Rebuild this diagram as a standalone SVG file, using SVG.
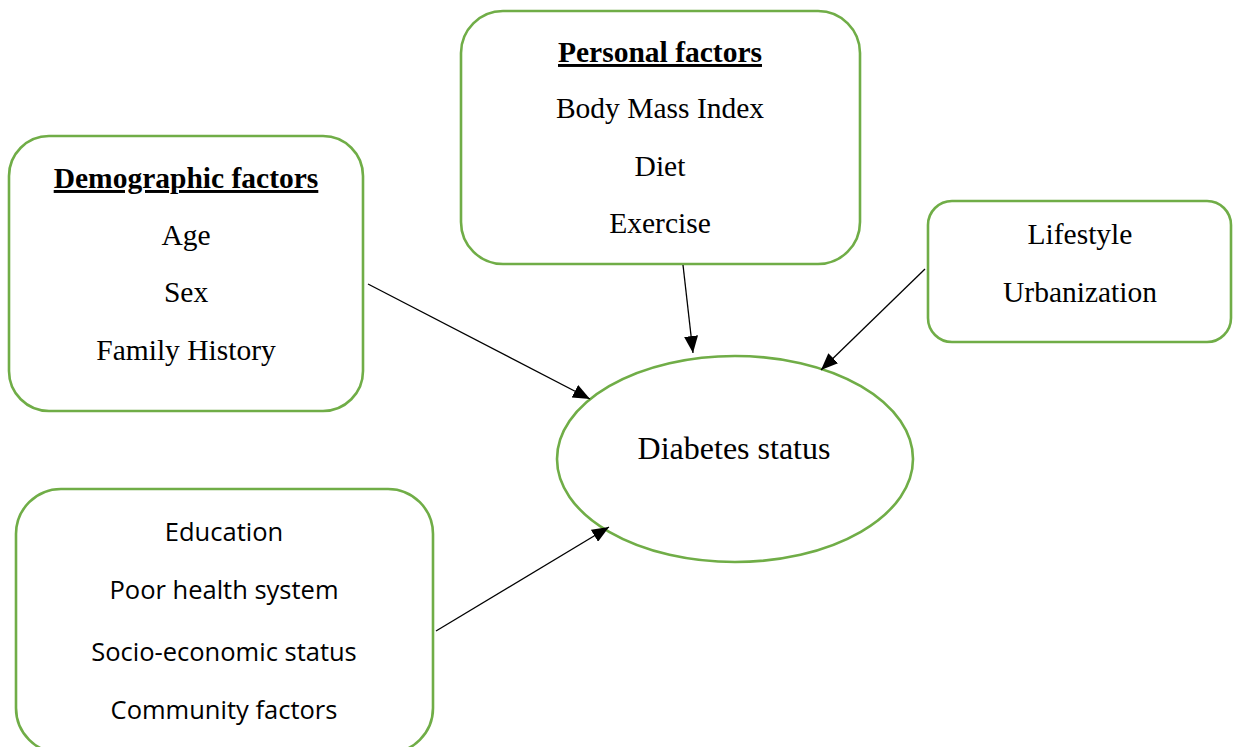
<svg xmlns="http://www.w3.org/2000/svg" width="1234" height="747" viewBox="0 0 1234 747">
<style>
.box{fill:#ffffff;stroke:#70AD47;stroke-width:2.6}
.t{font-family:"Liberation Serif","Times New Roman",serif;font-size:29.5px;fill:#000;text-anchor:middle}
.tb{font-weight:bold;text-decoration:underline}
.s{font-family:"Open Sans","Liberation Sans",sans-serif;font-size:25.5px;fill:#000;text-anchor:middle}
.c{stroke:#000;stroke-width:1.3;fill:none;marker-end:url(#ah)}
</style>
<defs>
<marker id="ah" markerUnits="userSpaceOnUse" markerWidth="18" markerHeight="14" refX="17" refY="7" orient="auto">
<path d="M0,0 L17,7 L0,14 Z" fill="#000"/>
</marker>
</defs>
<rect width="1234" height="747" fill="#ffffff"/>
<g id="demographic">
<rect class="box" x="9" y="136" width="354" height="275" rx="40"/>
<text class="t tb" x="186" y="188">Demographic factors</text>
<text class="t" x="186" y="245">Age</text>
<text class="t" x="186" y="302">Sex</text>
<text class="t" x="186" y="360">Family History</text>
</g>
<g id="personal">
<rect class="box" x="461" y="11" width="399" height="253" rx="42"/>
<text class="t tb" x="660" y="62">Personal factors</text>
<text class="t" x="660" y="118">Body Mass Index</text>
<text class="t" x="660" y="176">Diet</text>
<text class="t" x="660" y="233">Exercise</text>
</g>
<g id="lifestyle">
<rect class="box" x="928" y="201" width="303" height="141" rx="24"/>
<text class="t" x="1080" y="244">Lifestyle</text>
<text class="t" x="1080" y="302">Urbanization</text>
</g>
<g id="social">
<rect class="box" x="16" y="489" width="417" height="264" rx="45"/>
<text class="s" x="224" y="541">Education</text>
<text class="s" x="224" y="599">Poor health system</text>
<text class="s" x="224" y="661">Socio-economic status</text>
<text class="s" x="224" y="719">Community factors</text>
</g>
<g id="diabetes">
<ellipse class="box" cx="735" cy="459" rx="178" ry="103"/>
<text class="t" x="734" y="459" style="font-size:32px">Diabetes status</text>
</g>
<g id="connectors">
<line class="c" x1="368" y1="284" x2="590" y2="399"/>
<line class="c" x1="683" y1="265" x2="693" y2="353"/>
<line class="c" x1="925" y1="269" x2="821" y2="370"/>
<line class="c" x1="436" y1="631" x2="609" y2="527"/>
</g>
</svg>
